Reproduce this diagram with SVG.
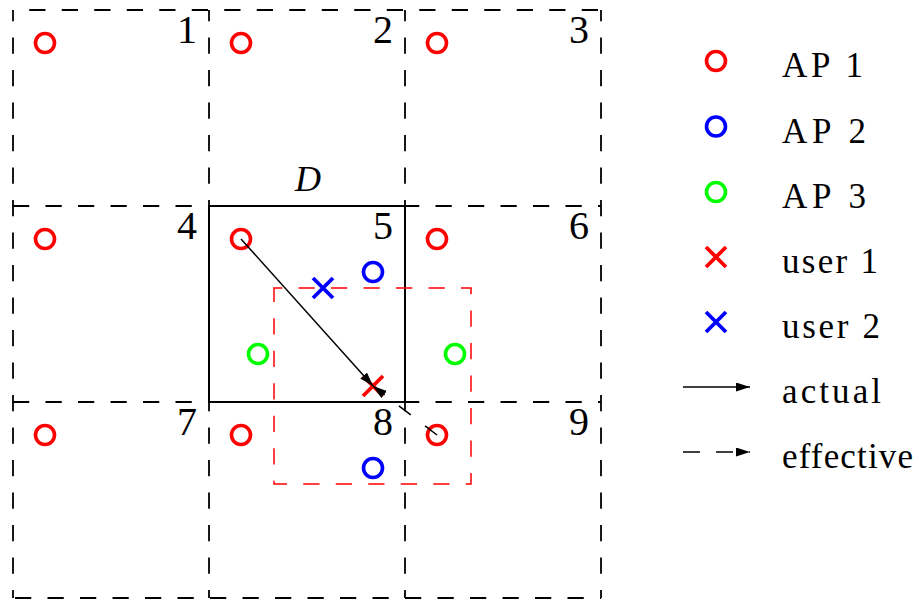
<svg xmlns="http://www.w3.org/2000/svg" width="919" height="601" viewBox="0 0 919 601">
  <style>
    .grid { fill: none; stroke: #000; stroke-width: 1.8; stroke-dasharray: 16.25 16.25; }
    .solid { fill: none; stroke: #000; stroke-width: 2; }
    .num { font-size: 40px; fill: #000; text-anchor: end; }
    .leg { font-size: 35px; fill: #000; }
    .ap { fill: none; stroke-width: 3.6; }
    .ap1 { stroke: #ff0000; }
    .ap2 { stroke: #0000ff; }
    .ap3 { stroke: #00ff00; }
    .usr { stroke-width: 3.8; stroke-linecap: butt; fill: none; }
    .u1 { stroke: #ff0000; }
    .u2 { stroke: #0000ff; }
    .arrow { stroke: #000; stroke-width: 1.5; fill: none; marker-end: url(#head); }
    .dash { stroke-dasharray: 15 18; }
    .region { fill: none; stroke: #ff0000; stroke-width: 1.5; stroke-dasharray: 16.25 16.25; stroke-dashoffset: 8; }
  </style>
  <defs>
    <marker id="head" markerUnits="userSpaceOnUse" markerWidth="15" markerHeight="10" refX="14" refY="4.5" orient="auto">
      <path d="M0,0 L14,4.5 L0,9 Z" fill="#000"/>
    </marker>
    <circle id="apc" r="9.5"/>
    <path id="xm" d="M-10,-10 L10,10 M-10,10 L10,-10"/>
  </defs>
  <rect width="919" height="601" fill="#fff"/>

  <g id="grid-lines" class="grid">
    <line x1="13" y1="10" x2="601" y2="10" stroke-dashoffset="16.25"/>
    <line x1="13" y1="206" x2="601" y2="206"/>
    <line x1="13" y1="402" x2="601" y2="402"/>
    <line x1="13" y1="598" x2="601" y2="598" stroke-dashoffset="-2"/>
    <line x1="13" y1="10" x2="13" y2="598" stroke-dashoffset="5"/>
    <line x1="209" y1="10" x2="209" y2="598" stroke-dashoffset="5"/>
    <line x1="405" y1="10" x2="405" y2="598" stroke-dashoffset="5"/>
    <line x1="601" y1="10" x2="601" y2="598" stroke-dashoffset="5"/>
  </g>

  <g id="cells" font-family="Liberation Serif, Times New Roman, serif">
    <g id="cell1"><text class="num" x="197" y="43">1</text></g>
    <g id="cell2"><text class="num" x="393" y="43">2</text></g>
    <g id="cell3"><text class="num" x="589" y="43">3</text></g>
    <g id="cell4"><text class="num" x="197" y="239">4</text></g>
    <g id="cell6"><text class="num" x="589" y="239">6</text></g>
    <g id="cell7"><text class="num" x="197" y="435">7</text></g>
    <g id="cell8"><text class="num" x="393" y="435">8</text></g>
    <g id="cell9"><text class="num" x="589" y="435">9</text></g>
    <g id="cell5"><rect x="209" y="206" width="196" height="196" fill="#fff"/><rect class="solid" x="209" y="206" width="196" height="196"/><text class="num" x="393" y="239">5</text>
      <text x="308" y="191" font-size="36" font-style="italic" text-anchor="middle">D</text></g>
  </g>

  <g id="effective-region"><rect class="region" x="274" y="288" width="197" height="196"/></g>

  <g id="ap1-nodes" class="ap ap1">
    <use href="#apc" x="45" y="43"/><use href="#apc" x="241" y="43"/><use href="#apc" x="437" y="43"/>
    <use href="#apc" x="45" y="239"/><use href="#apc" x="241" y="239"/><use href="#apc" x="437" y="239"/>
    <use href="#apc" x="45" y="435"/><use href="#apc" x="241" y="435"/><use href="#apc" x="437" y="435"/>
  </g>
  <g id="ap2-nodes" class="ap ap2">
    <use href="#apc" x="373" y="272"/><use href="#apc" x="373" y="468"/>
  </g>
  <g id="ap3-nodes" class="ap ap3">
    <use href="#apc" x="258" y="354"/><use href="#apc" x="455" y="354"/>
  </g>
  <g id="user1" class="usr u1"><use href="#xm" x="373" y="386"/></g>
  <g id="user2" class="usr u2"><use href="#xm" x="323" y="288"/></g>

  <g id="connectors">
    <line class="arrow" x1="241" y1="239" x2="373" y2="386"/>
    <line class="arrow dash" x1="437" y1="435" x2="373" y2="386"/>
  </g>

  <g id="legend" font-family="Liberation Serif, Times New Roman, serif">
    <g id="leg-ap1"><use href="#apc" class="ap ap1" x="716" y="61"/><text class="leg" x="782" y="77" textLength="81">AP 1</text></g>
    <g id="leg-ap2"><use href="#apc" class="ap ap2" x="716" y="126.5"/><text class="leg" x="782" y="142.5" textLength="84">AP 2</text></g>
    <g id="leg-ap3"><use href="#apc" class="ap ap3" x="716" y="192"/><text class="leg" x="782" y="208" textLength="84">AP 3</text></g>
    <g id="leg-user1"><use href="#xm" class="usr u1" x="716" y="257"/><text class="leg" x="782" y="272.5" textLength="96">user 1</text></g>
    <g id="leg-user2"><use href="#xm" class="usr u2" x="716" y="322"/><text class="leg" x="782" y="337.5" textLength="98">user 2</text></g>
    <g id="leg-actual"><line class="arrow" x1="683" y1="387" x2="750" y2="387"/><text class="leg" x="782" y="403" textLength="99">actual</text></g>
    <g id="leg-effective"><line class="arrow" stroke-dasharray="17 16" x1="683" y1="452" x2="750" y2="452"/><text class="leg" x="782" y="468" textLength="131">effective</text></g>
  </g>
</svg>
